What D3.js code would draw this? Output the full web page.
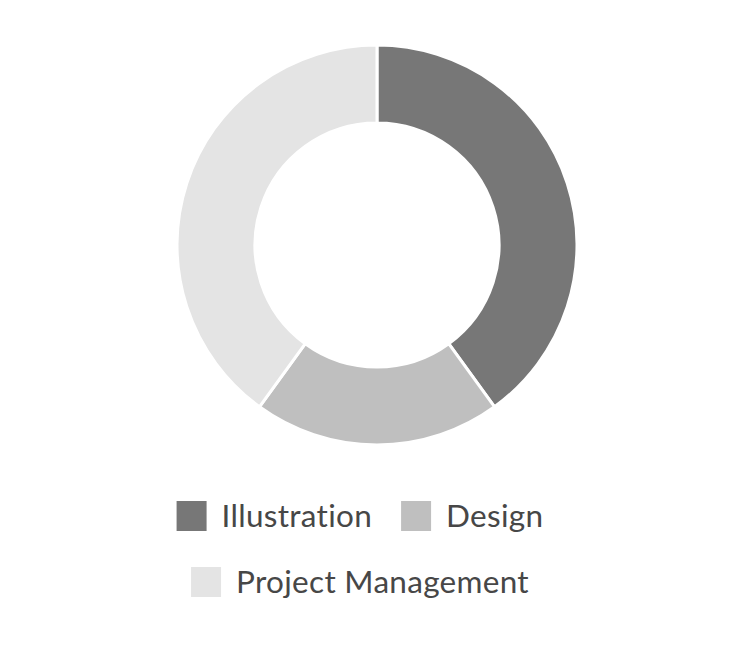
<!DOCTYPE html>
<html><head><meta charset="utf-8">
<script src="https://cdn.jsdelivr.net/npm/d3@7"></script>
<style>html,body{margin:0;padding:0;background:#fff;}svg{display:block;}</style>
</head><body>
<svg id="chart" width="736" height="650"></svg>
<script>
const categories = ["Illustration", "Design", "Project Management"];
const values = [40, 20, 40];
const colors = ["#777777", "#bfbfbf", "#e4e4e4"];
const legendRows = [[0, 1], [2]];

const svg = d3.select("#chart");
const cx = 377, cy = 245, outerR = 200, innerR = 122;

const color = d3.scaleOrdinal().domain(categories).range(colors);
const pie = d3.pie().sort(null).value(d => d.value);
const arc = d3.arc().innerRadius(innerR).outerRadius(outerR);
const data = categories.map((c, i) => ({ name: c, value: values[i] }));

svg.append("g").attr("transform", `translate(${cx},${cy})`)
  .selectAll("path").data(pie(data)).join("path")
  .attr("d", arc)
  .attr("fill", d => color(d.data.name))
  .attr("stroke", "#fff").attr("stroke-width", 3);

const fontSize = 31.5;
const sq = 30, gapText = 15, gapItem = 29;
const rowY = [516, 582];
const legendCenter = 360;
legendRows.forEach((row, ri) => {
  const g = svg.append("g");
  let x = 0;
  row.forEach((idx, k) => {
    const item = g.append("g").attr("transform", `translate(${x},0)`);
    item.append("rect").attr("x", 0).attr("y", -sq / 2).attr("width", sq).attr("height", sq)
      .attr("fill", color(categories[idx]));
    const t = item.append("text").attr("x", sq + gapText).attr("y", 11)
      .attr("font-family", "Lato, 'Open Sans', sans-serif")
      .attr("font-size", fontSize).attr("letter-spacing", 0.3)
      .attr("fill", "#474747").text(categories[idx]);
    const w = t.node().getComputedTextLength();
    x += sq + gapText + w + (k < row.length - 1 ? gapItem : 0);
  });
  g.attr("transform", `translate(${legendCenter - x / 2},${rowY[ri]})`);
});
</script>
</body></html>
